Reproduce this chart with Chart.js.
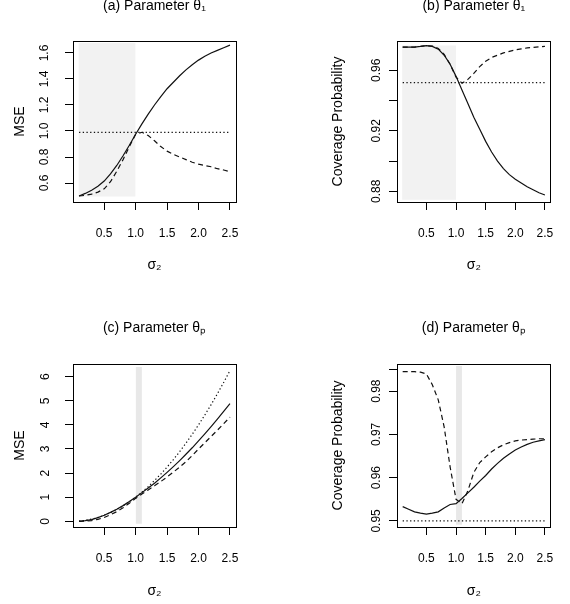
<!DOCTYPE html>
<html>
<head>
<meta charset="utf-8">
<script src="https://cdn.jsdelivr.net/npm/chart.js@4.4.1/dist/chart.umd.min.js"></script>
<style>
  body { margin: 0; background: #fff; }
  #wrap { position: relative; width: 570px; height: 604px; overflow: hidden; }
  canvas { position: absolute; }
</style>
</head>
<body>
<div id="wrap">
  <canvas id="pa" width="285" height="302" style="left:0;top:0"></canvas>
  <canvas id="pb" width="285" height="302" style="left:285px;top:0"></canvas>
  <canvas id="pc" width="285" height="302" style="left:0;top:302px"></canvas>
  <canvas id="pd" width="285" height="302" style="left:285px;top:302px"></canvas>
</div>
<script>
// sigma_2 grid shared by every panel
var sigma2 = [0.1, 0.2, 0.3, 0.4, 0.5, 0.6, 0.7, 0.8, 0.9, 1.0, 1.1, 1.2, 1.3, 1.4, 1.5, 1.6, 1.7, 1.8, 1.9, 2.0, 2.1, 2.2, 2.3, 2.4, 2.5];
var xTicks = [0.5, 1.0, 1.5, 2.0, 2.5];
var xLabels = ['0.5', '1.0', '1.5', '2.0', '2.5'];
var refX = [0.1, 2.5];

// (a) MSE, theta_1
var aSolid = [0.50, 0.52, 0.545, 0.575, 0.615, 0.67, 0.735, 0.81, 0.89, 0.975, 1.055, 1.13, 1.20, 1.265, 1.325, 1.375, 1.425, 1.47, 1.51, 1.545, 1.575, 1.60, 1.62, 1.64, 1.66];
var aDashed = [0.50, 0.505, 0.515, 0.53, 0.555, 0.61, 0.69, 0.78, 0.88, 0.975, 0.99, 0.965, 0.925, 0.88, 0.845, 0.82, 0.80, 0.78, 0.76, 0.745, 0.735, 0.725, 0.71, 0.70, 0.687];
var aRef = [0.99, 0.99];
var aBandX = [0.09, 1.0];
var aBandY = [0.497, 1.677];
var aYTicks = [0.6, 0.8, 1.0, 1.2, 1.4, 1.6];
var aYLabels = ['0.6', '0.8', '1.0', '1.2', '1.4', '1.6'];

// (b) coverage, theta_1
var bSolid = [0.9754, 0.9754, 0.9754, 0.9758, 0.9763, 0.9758, 0.9740, 0.9700, 0.9640, 0.9560, 0.9470, 0.9380, 0.9290, 0.9210, 0.9130, 0.9060, 0.9000, 0.8950, 0.8910, 0.8880, 0.8855, 0.8830, 0.8810, 0.8790, 0.8775];
var bDashed = [0.9754, 0.9754, 0.9754, 0.9758, 0.9763, 0.9760, 0.9745, 0.9705, 0.9640, 0.9555, 0.9515, 0.9540, 0.9580, 0.9625, 0.9660, 0.9685, 0.9700, 0.9715, 0.9725, 0.9735, 0.9742, 0.9748, 0.9752, 0.9756, 0.9758];
var bRef = [0.9518, 0.9518];
var bBandX = [0.09, 1.0];
var bBandY = [0.8744, 0.9764];
var bYTicks = [0.88, 0.90, 0.92, 0.94, 0.96];
var bYLabels = ['0.88', '', '0.92', '', '0.96'];

// (c) MSE, theta_p
var cSolid = [0.0, 0.03, 0.07, 0.15, 0.25, 0.37, 0.50, 0.65, 0.82, 1.00, 1.19, 1.38, 1.58, 1.80, 2.03, 2.27, 2.52, 2.78, 3.05, 3.34, 3.63, 3.93, 4.24, 4.56, 4.88];
var cDashed = [0.0, 0.01, 0.03, 0.08, 0.16, 0.27, 0.40, 0.56, 0.75, 0.95, 1.13, 1.30, 1.47, 1.65, 1.84, 2.04, 2.25, 2.47, 2.73, 3.00, 3.26, 3.52, 3.78, 4.05, 4.32];
var cDotted = [0.01, 0.04, 0.09, 0.16, 0.25, 0.36, 0.49, 0.64, 0.81, 1.00, 1.21, 1.44, 1.69, 1.96, 2.25, 2.56, 2.89, 3.24, 3.61, 4.00, 4.41, 4.84, 5.29, 5.76, 6.25];
var cBandX = [1.0, 1.1];
var cBandY = [-0.1, 6.4];
var cYTicks = [0, 1, 2, 3, 4, 5, 6];
var cYLabels = ['0', '1', '2', '3', '4', '5', '6'];

// (d) coverage, theta_p
var dSolid = [0.9533, 0.9527, 0.9521, 0.9518, 0.9516, 0.9518, 0.9521, 0.9530, 0.9538, 0.9540, 0.9552, 0.9565, 0.9578, 0.9592, 0.9605, 0.9620, 0.9633, 0.9645, 0.9655, 0.9664, 0.9671, 0.9677, 0.9682, 0.9685, 0.9688];
var dDashed = [0.9845, 0.9845, 0.9845, 0.9844, 0.9840, 0.9815, 0.9780, 0.9717, 0.9625, 0.9550, 0.9540, 0.9570, 0.9612, 0.9635, 0.9648, 0.9660, 0.9669, 0.9676, 0.9681, 0.9685, 0.9687, 0.9688, 0.9689, 0.9690, 0.9690];
var dRef = [0.95, 0.95];
var dBandX = [1.0, 1.1];
var dBandY = [0.9491, 0.9858];
var dYTicks = [0.95, 0.96, 0.97, 0.98, 0.985];
var dYLabels = ['0.95', '0.96', '0.97', '0.98', ''];

var FONT = "'Liberation Sans', Arial, Helvetica, sans-serif";

function pts(xs, ys) {
  return xs.map(function (x, i) { return { x: x, y: ys[i] }; });
}

function lineSet(xs, ys, dash, order) {
  return {
    data: pts(xs, ys),
    borderColor: '#111',
    borderWidth: 1.2,
    borderDash: dash,
    pointRadius: 0,
    tension: 0,
    fill: false,
    order: order
  };
}

function bandSet(bx, by, color) {
  return {
    data: pts(bx, [by[1], by[1]]),
    borderColor: 'rgba(0,0,0,0)',
    borderWidth: 1,
    backgroundColor: color,
    pointRadius: 0,
    fill: { value: by[0] },
    order: 10
  };
}

function panel(id, p) {
  new Chart(document.getElementById(id), {
    type: 'line',
    data: { datasets: p.sets },
    options: {
      responsive: false,
      animation: false,
      devicePixelRatio: 1,
      layout: { padding: 0 },
      plugins: { legend: { display: false }, tooltip: { enabled: false }, title: { display: false } },
      scales: {
        x: {
          type: 'linear', position: 'bottom', min: 0.004, max: 2.596,
          afterBuildTicks: function (s) { s.ticks = xTicks.map(function (v) { return { value: v }; }); },
          afterFit: function (s) { s.height = p.bottom; },
          ticks: {
            autoSkip: false, maxRotation: 0, padding: 16, color: '#000',
            font: { family: FONT, size: 12 },
            callback: function (v, i) { return xLabels[i]; }
          },
          grid: { display: true, drawOnChartArea: false, drawTicks: true, tickLength: 8, color: '#000', lineWidth: 1 },
          border: { display: true, color: '#000', width: 1 },
          title: { display: true, text: 'σ₂', color: '#000', font: { family: FONT, size: 14 }, padding: { top: 0, bottom: p.xTitlePad } }
        },
        y: {
          type: 'linear', position: 'left', min: p.yMin, max: p.yMax,
          afterBuildTicks: function (s) { s.ticks = p.yTicks.map(function (v) { return { value: v }; }); },
          afterFit: function (s) { s.width = p.left; },
          ticks: {
            autoSkip: false, minRotation: 90, maxRotation: 90, crossAlign: 'center', padding: p.yPad, color: '#000',
            font: { family: FONT, size: 12 },
            callback: function (v, i) { return p.yLabels[i]; }
          },
          grid: { display: true, drawOnChartArea: false, drawTicks: true, tickLength: 8, color: '#000', lineWidth: 1 },
          border: { display: true, color: '#000', width: 1 },
          title: { display: true, text: p.yTitle, color: '#000', font: { family: FONT, size: 14 }, padding: { top: p.yTitlePad, bottom: 0 } }
        },
        top: {
          type: 'linear', position: 'top', axis: 'x', min: 0, max: 1,
          afterFit: function (s) { s.height = p.top; },
          ticks: { display: false },
          grid: { display: false },
          border: { display: true, color: '#000', width: 1 },
          title: { display: true, text: p.title, color: '#000', font: { family: FONT, size: 14 }, padding: { top: p.titlePad, bottom: 0 } }
        },
        right: {
          type: 'linear', position: 'right', axis: 'y', min: 0, max: 1,
          afterFit: function (s) { s.width = p.right; },
          ticks: { display: false },
          grid: { display: false },
          border: { display: true, color: '#000', width: 1 }
        }
      }
    }
  });
}

var dashed = [5, 3.5];
var dotted = [1.3, 2.4];

panel('pa', {
  title: '(a) Parameter θ₁', yTitle: 'MSE',
  left: 73, right: 49, top: 41, bottom: 100,
  yMin: 0.454, yMax: 1.692, yTicks: aYTicks, yLabels: aYLabels,
  yPad: 11.7, yTitlePad: 11.6, titlePad: -2, xTitlePad: 28,
  sets: [lineSet(sigma2, aSolid, [], 1), lineSet(sigma2, aDashed, dashed, 2), lineSet(refX, aRef, dotted, 3), bandSet(aBandX, aBandY, '#f2f2f2')]
});

panel('pb', {
  title: '(b) Parameter θ₁', yTitle: 'Coverage Probability',
  left: 112, right: 10, top: 41, bottom: 100,
  yMin: 0.8729, yMax: 0.9794, yTicks: bYTicks, yLabels: bYLabels,
  yPad: 0.6, yTitlePad: 44.9, titlePad: -2, xTitlePad: 28,
  sets: [lineSet(sigma2, bSolid, [], 1), lineSet(sigma2, bDashed, dashed, 2), lineSet(refX, bRef, dotted, 3), bandSet(bBandX, bBandY, '#f2f2f2')]
});

panel('pc', {
  title: '(c) Parameter θₚ', yTitle: 'MSE',
  left: 73, right: 49, top: 62, bottom: 77,
  yMin: -0.237, yMax: 6.527, yTicks: cYTicks, yLabels: cYLabels,
  yPad: 16.2, yTitlePad: 11.6, titlePad: 18.1, xTitlePad: 4.6,
  sets: [lineSet(sigma2, cSolid, [], 1), lineSet(sigma2, cDashed, dashed, 2), lineSet(sigma2, cDotted, dotted, 3), bandSet(cBandX, cBandY, '#e8e8e8')]
});

panel('pd', {
  title: '(d) Parameter θₚ', yTitle: 'Coverage Probability',
  left: 112, right: 10, top: 62, bottom: 77,
  yMin: 0.9486, yMax: 0.98628, yTicks: dYTicks, yLabels: dYLabels,
  yPad: 0.6, yTitlePad: 44.9, titlePad: 18.1, xTitlePad: 4.6,
  sets: [lineSet(sigma2, dSolid, [], 1), lineSet(sigma2, dDashed, dashed, 2), lineSet(refX, dRef, dotted, 3), bandSet(dBandX, dBandY, '#e8e8e8')]
});
</script>
</body>
</html>
